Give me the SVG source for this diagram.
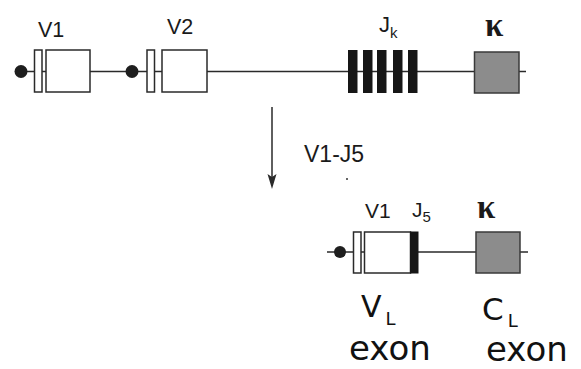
<svg xmlns="http://www.w3.org/2000/svg" width="581" height="369" viewBox="0 0 581 369">
<defs>
<style>
.ln{stroke:#2a2a2a;stroke-width:1.5;fill:none}
.bx{fill:#fff;stroke:#2a2a2a;stroke-width:1.5}
.jb{fill:#161616;stroke:#161616;stroke-width:1}
.gb{fill:#8c8c8c;stroke:#3a3a3a;stroke-width:1.5}
.dot{fill:#1e1e1e}
.lb{font-family:"Liberation Sans",Arial,sans-serif;fill:#1a1a1a}
.kp{font-family:"Liberation Serif","DejaVu Serif",serif;font-weight:bold;fill:#1a1a1a}
.hw{font-family:"DejaVu Sans","Liberation Sans",sans-serif;fill:#111}
</style>
</defs>
<rect width="581" height="369" fill="#fff"/>

<g id="connectors">
<line class="ln" x1="20" y1="71.5" x2="526" y2="71.5"/>
<line class="ln" x1="327" y1="252" x2="528" y2="252"/>
<line class="ln" x1="272" y1="107" x2="272" y2="178"/>
<path d="M267.5,174 L272,189 L276.5,174 L272,177 Z" fill="#2a2a2a"/>
</g>

<g id="top-V1">
<circle class="dot" cx="21" cy="71.5" r="6.5"/>
<rect class="bx" x="34.5" y="50" width="7.5" height="42"/>
<rect class="bx" x="46" y="50" width="44" height="42"/>
<text class="lb" x="38" y="37" font-size="21.5">V1</text>
</g>

<g id="top-V2">
<circle class="dot" cx="132" cy="71.5" r="6.5"/>
<rect class="bx" x="147" y="50" width="7.5" height="42"/>
<rect class="bx" x="162" y="50" width="45" height="42"/>
<text class="lb" x="167" y="34" font-size="21.5">V2</text>
</g>

<g id="top-Jk">
<rect class="jb" x="348.5" y="50.5" width="8.5" height="42"/>
<rect class="jb" x="363.5" y="50.5" width="8.5" height="42"/>
<rect class="jb" x="377.5" y="50.5" width="8.5" height="42"/>
<rect class="jb" x="393.5" y="50.5" width="8.5" height="42"/>
<rect class="jb" x="408.5" y="50.5" width="8.5" height="42"/>
<text class="lb" x="379" y="32" font-size="22">J<tspan font-size="15" dy="6">k</tspan></text>
</g>

<g id="top-kappa">
<rect class="gb" x="474.5" y="52" width="44.5" height="41"/>
<text class="kp" x="485" y="36" font-size="33">κ</text>
</g>

<g id="rearrangement-label">
<text class="lb" x="304" y="162" font-size="23">V1-J5</text>
<circle cx="347" cy="179" r="1" fill="#333"/>
</g>

<g id="bottom-VJ">
<circle class="dot" cx="340" cy="252" r="6"/>
<rect class="bx" x="353.5" y="232" width="7.5" height="41"/>
<rect class="bx" x="364.5" y="232" width="46" height="41"/>
<rect class="jb" x="410.5" y="232" width="7.5" height="41"/>
<text class="lb" x="365" y="218" font-size="21">V1</text>
<text class="lb" x="412" y="217" font-size="21">J<tspan font-size="15" dy="5">5</tspan></text>
</g>

<g id="bottom-kappa">
<rect class="gb" x="476" y="232" width="44" height="41"/>
<text class="kp" x="477" y="218" font-size="33">κ</text>
</g>

<g id="handwritten">
<text class="hw" x="361" y="317" font-size="30">V<tspan font-size="18" dx="4" dy="8">L</tspan></text>
<text class="hw" x="482" y="320" font-size="31">C<tspan font-size="18" dx="4" dy="7">L</tspan></text>
<text class="hw" x="349" y="360" font-size="34">exon</text>
<text class="hw" x="486" y="361" font-size="34">exon</text>
</g>
</svg>
